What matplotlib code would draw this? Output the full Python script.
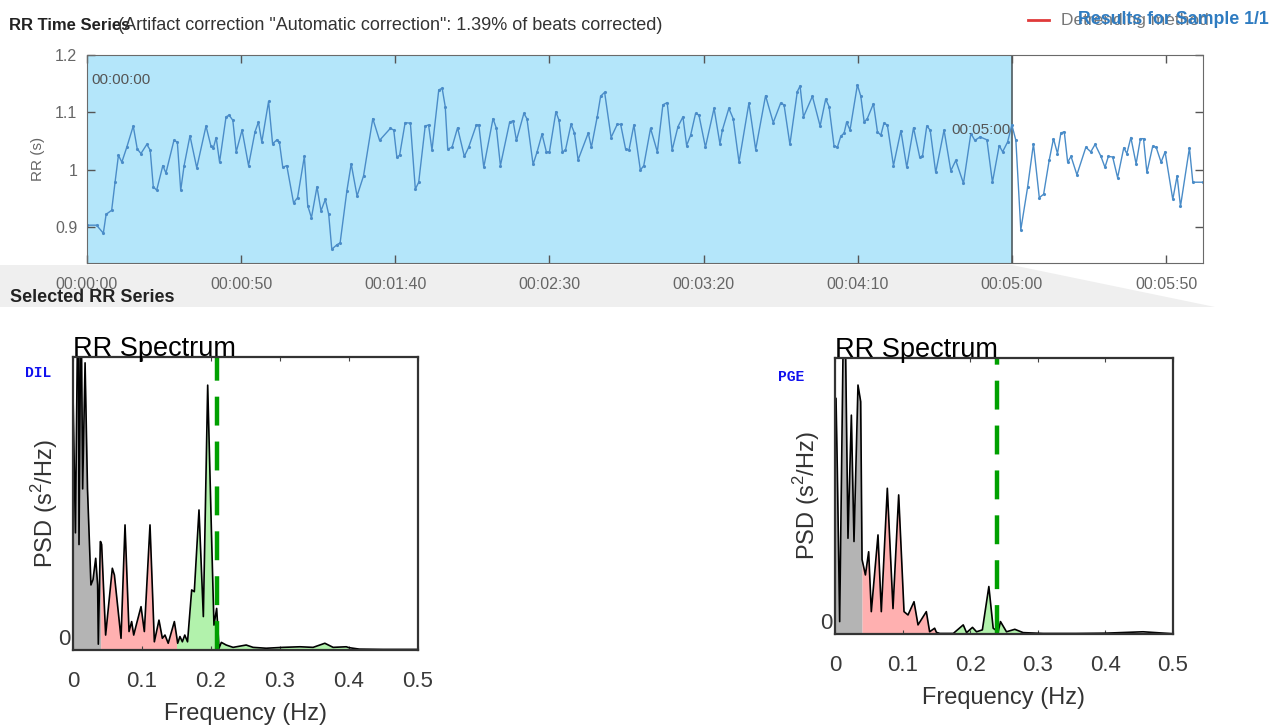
import numpy as np
import matplotlib
matplotlib.use("Agg")
import matplotlib.pyplot as plt
from matplotlib.patches import Polygon
from matplotlib.lines import Line2D
from matplotlib.ticker import FuncFormatter

plt.rcParams['font.family'] = ['Liberation Sans', 'DejaVu Sans']
plt.rcParams['mathtext.fontset'] = 'custom'
plt.rcParams['mathtext.rm'] = 'Liberation Sans'

# RR time series (time in s, RR in s)
rr_time = [0.1, 3.1, 5.3, 6.2, 8.0, 9.1, 10.2, 11.3, 12.9, 15.0, 16.3, 17.5, 19.4, 20.5, 21.5, 22.6,
           24.6, 25.6, 28.2, 29.3, 30.4, 31.5, 33.4, 35.6, 38.6, 40.2, 41.0, 41.9, 43.0, 45.1, 46.1,
           47.3, 48.4, 50.3, 52.4, 54.5, 55.6, 56.7, 58.9, 60.2, 61.6, 62.4, 63.5, 64.8, 67.0, 68.3,
           70.5, 71.6, 72.8, 74.6, 75.9, 77.3, 78.4, 79.4, 81.1, 82.1, 84.3, 85.7, 87.6, 89.7, 92.7,
           94.9, 98.4, 99.5, 100.5, 101.4, 103.2, 104.9, 106.5, 107.6, 109.7, 110.8, 111.9, 114.1,
           115.2, 116.2, 117.0, 118.4,
           120.2, 122.4, 123.8, 126.3, 127.1, 128.7, 131.7, 132.8, 134.1, 137.1, 138.2, 139.3, 141.7,
           142.7, 144.7, 146.0, 147.6, 149.0, 150.0, 152.1, 153.1, 154.2, 155.2, 157.0, 158.1, 159.3,
           162.6, 163.6, 165.5, 166.6, 167.9, 170.0, 172.0, 173.1, 174.7, 175.8, 177.4, 179.5, 180.6,
           182.8, 185.0, 186.8, 188.2, 189.8, 191.7, 193.3, 194.5, 195.8, 197.4, 198.5, 200.6, 203.4,
           205.3, 206.1, 208.2, 209.6, 211.5, 214.7, 216.9, 220.1, 222.6, 225.0, 226.1, 228.0, 230.4,
           231.3, 232.4, 235.3, 237.8,
           239.6, 240.7, 242.3, 243.4, 244.5, 245.6, 246.4, 247.5, 249.9, 251.0, 252.1, 253.1, 255.1,
           256.4, 257.5, 258.5, 259.6, 261.6, 264.0, 265.9, 268.1, 270.1, 271.0, 272.4, 273.5, 275.3,
           278.0, 280.2, 281.8, 284.3, 286.7, 288.0, 289.7, 291.9, 293.7, 295.9, 297.0, 298.6, 300.0,
           301.3, 302.9, 305.1, 307.0, 308.9, 310.3, 312.1, 313.5, 314.8, 315.9, 317.0, 318.1, 319.2,
           321.1, 324.0, 325.6, 327.0, 328.9, 330.2, 331.3, 332.7, 334.3, 336.3, 337.3, 338.6, 340.3,
           341.7, 342.7, 343.8, 345.7, 346.8, 348.4, 349.7, 352.2, 353.6, 354.7, 357.6, 358.7, 361.9]
rr_value = [0.903, 0.903, 0.889, 0.922, 0.929, 0.978, 1.025, 1.013, 1.039, 1.076, 1.036, 1.028, 1.044,
            1.034, 0.970, 0.964, 1.007, 0.994, 1.051, 1.048, 0.964, 1.007, 1.059, 1.003, 1.076, 1.041,
            1.038, 1.056, 1.013, 1.092, 1.095, 1.086, 1.031, 1.069, 1.007, 1.066, 1.083, 1.048, 1.119,
            1.045, 1.052, 1.048, 1.004, 1.007, 0.942, 0.951, 1.023, 0.937, 0.916, 0.970, 0.928, 0.948,
            0.922, 0.861, 0.869, 0.872, 0.963, 1.010, 0.954, 0.989, 1.089, 1.051, 1.072, 1.069, 1.022,
            1.025, 1.082, 1.081, 0.966, 0.978, 1.076, 1.078, 1.034, 1.139, 1.142, 1.110, 1.036, 1.039,
            1.073, 1.023, 1.039, 1.078, 1.078, 1.004, 1.089, 1.072, 1.007, 1.083, 1.085, 1.051, 1.098,
            1.089, 1.009, 1.031, 1.062, 1.031, 1.031, 1.101, 1.086, 1.031, 1.034, 1.079, 1.064, 1.017,
            1.064, 1.039, 1.092, 1.128, 1.135, 1.056, 1.079, 1.079, 1.036, 1.034, 1.078, 0.999, 1.007,
            1.072, 1.031, 1.113, 1.117, 1.034, 1.075, 1.092, 1.042, 1.060, 1.098, 1.095, 1.039, 1.107,
            1.045, 1.069, 1.107, 1.089, 1.013, 1.116, 1.035, 1.129, 1.082, 1.116, 1.113, 1.044, 1.136,
            1.146, 1.092, 1.128, 1.076,
            1.123, 1.110, 1.042, 1.039, 1.058, 1.064, 1.083, 1.069, 1.148, 1.128, 1.083, 1.089, 1.115,
            1.066, 1.060, 1.081, 1.078, 1.007, 1.068, 1.004, 1.073, 1.022, 1.023, 1.076, 1.069, 0.995,
            1.069, 0.998, 1.016, 0.976, 1.063, 1.051, 1.057, 1.052, 0.978, 1.042, 1.031, 1.048, 1.078,
            1.051, 0.895, 0.969, 1.045, 0.951, 0.957, 1.016, 1.054, 1.028, 1.064, 1.066, 1.013, 1.023,
            0.991, 1.039, 1.031, 1.044, 1.023, 1.004, 1.023, 1.022, 0.986, 1.038, 1.028, 1.056, 1.010,
            1.054, 1.054, 0.995, 1.041, 1.039, 1.013, 1.031, 0.948, 0.989, 0.936, 1.038, 0.978, 0.978]
selected_end = 300  # s, end of the selected window
time_ticks = [0, 50, 100, 150, 200, 250, 300, 350]

# RR spectra (frequency in Hz, PSD in relative units, top of axes = 1)
dil_freq = [0.000, 0.0035, 0.0077, 0.0087, 0.0116, 0.014, 0.0175, 0.021, 0.026, 0.029, 0.0329, 0.0357,
            0.0367, 0.0396, 0.040, 0.0415, 0.0473, 0.057, 0.060, 0.0696, 0.0754, 0.0812, 0.085, 0.088,
            0.0923, 0.0986, 0.1034, 0.1116, 0.1179, 0.1246, 0.1295, 0.1333, 0.138, 0.1469, 0.150,
            0.1517, 0.155, 0.1585, 0.162, 0.166, 0.172, 0.1758, 0.1826, 0.1889, 0.1952, 0.201, 0.2043,
            0.2082, 0.2116, 0.215, 0.222, 0.232, 0.251, 0.261, 0.280, 0.304, 0.329, 0.348, 0.365,
            0.377, 0.396, 0.400, 0.415, 0.449, 0.500]
dil_psd = [0.876, 0.40, 1.35, 0.36, 1.25, 0.55, 0.98, 0.55, 0.222, 0.24, 0.313, 0.222,
           0.02, 0.370, 0.37, 0.36, 0.051, 0.279, 0.256, 0.040, 0.427, 0.063, 0.097, 0.051,
           0.091, 0.148, 0.063, 0.427, 0.028, 0.102, 0.040, 0.051, 0.023, 0.097, 0.05,
           0.023, 0.046, 0.028, 0.051, 0.028, 0.205, 0.199, 0.478, 0.114, 0.904, 0.370, 0.085,
           0.142, 0.006, 0.026, 0.017, 0.009, 0.017, 0.009, 0.006, 0.009, 0.011, 0.009, 0.023,
           0.009, 0.011, 0.008, 0.003, 0.002, 0.002]
dil_dash = 0.208

pge_freq = [0.000, 0.0015, 0.0034, 0.0069, 0.0133, 0.0153, 0.0192, 0.0242, 0.0281, 0.034, 0.038, 0.040,
            0.045, 0.0498, 0.0537, 0.0636, 0.0685, 0.0774, 0.0858, 0.0942, 0.1021, 0.108, 0.1169,
            0.1228, 0.1351, 0.140, 0.1474, 0.150, 0.155, 0.175, 0.1897, 0.1946, 0.2034, 0.2094,
            0.218, 0.2276, 0.234, 0.2414, 0.2448, 0.2537, 0.266, 0.2783, 0.308, 0.357, 0.400,
            0.4557, 0.500]
pge_psd = [0.854, 0.854, 0.600, 0.045, 1.30, 1.10, 0.347, 0.793, 0.335, 0.902, 0.842, 0.27,
           0.214, 0.298, 0.081, 0.359, 0.081, 0.528, 0.092, 0.504, 0.081, 0.069, 0.117,
           0.033, 0.081, 0.008, 0.021, 0.006, 0.002, 0.002, 0.033, 0.005, 0.024, 0.008,
           0.015, 0.172, 0.021, 0.008, 0.045, 0.008, 0.017, 0.005, 0.002, 0.002, 0.003,
           0.008, 0.001]
pge_dash = 0.240

bands = [(0.0, 0.04, '#b4b4b4'), (0.04, 0.15, '#ffb0b0'), (0.15, 0.40, '#b2f2ac')]

W, H = 1272, 726
fig = plt.figure(figsize=(W / 100, H / 100), dpi=100)


def rect(x0, y0, x1, y1):
    # pixel box -> figure fraction
    return [x0 / W, 1 - y1 / H, (x1 - x0) / W, (y1 - y0) / H]


# ---- top: RR time series ----
ax = fig.add_axes(rect(87, 55, 1203, 263))
ax.axvspan(0, selected_end, color='#b4e6fa', lw=0, zorder=0)
ax.axvline(selected_end, color='#4f5b60', lw=1.2, zorder=1)
ax.plot(rr_time, rr_value, color='#4a8cc8', lw=1.0, marker='.', ms=2.5, zorder=2)
ax.set_xlim(0, 362)
ax.set_ylim(0.837, 1.2)
ax.set_xticks(time_ticks)
ax.xaxis.set_major_formatter(FuncFormatter(
    lambda s, p: '%02d:%02d:%02d' % (s // 3600, (s % 3600) // 60, s % 60)))
ax.set_yticks([0.9, 1.0, 1.1, 1.2])
ax.set_yticklabels(['0.9', '1', '1.1', '1.2'])
ax.tick_params(direction='in', top=True, right=True, length=6, width=1, color='#555555',
               labelcolor='#666666', labelsize=11.5)
ax.tick_params(axis='x', pad=10)
ax.tick_params(axis='y', pad=7)
for sp in ax.spines.values():
    sp.set_color('#6a6a6a')
ax.set_ylabel('RR (s)', color='#666666', fontsize=11)
ax.yaxis.set_label_coords(-0.038, 0.5)
ax.text(1.5, 1.157, '00:00:00', color='#555555', fontsize=11, va='center', ha='left')
ax.text(selected_end - 0.5, 1.069, '00:05:00', color='#555555', fontsize=11, va='center', ha='right')

# grey strip under the time axis with the zoom wedge
pos = ax.get_position()
x_sel = pos.x0 + selected_end / 362 * pos.width
strip = Polygon([(0, 1 - 265 / H), (x_sel, 1 - 265 / H), (1215 / W, 1 - 307 / H), (0, 1 - 307 / H)],
                closed=True, transform=fig.transFigure, facecolor='#efefef', edgecolor='none', zorder=-1)
fig.patches.append(strip)
fig.text(10 / W, 1 - 298 / H, 'Selected RR Series', fontsize=13, fontweight='bold', color='#222222',
         va='center')

# header texts (they overlap in the source screenshot too)
fig.text(9 / W, 1 - 25 / H, 'RR Time Series', fontsize=12, fontweight='bold', color='#222222',
         va='center')
fig.text(118 / W, 1 - 25 / H, '(Artifact correction "Automatic correction": 1.39% of beats corrected)',
         fontsize=13, color='#333333', va='center')
fig.add_artist(Line2D([1028 / W, 1049 / W], [1 - 20 / H, 1 - 20 / H], color='#e03a3a', lw=2,
                      transform=fig.transFigure))
fig.text(1061 / W, 1 - 20 / H, 'Detrending method', fontsize=12.5, color='#777777', va='center')
fig.text(1078 / W, 1 - 19 / H, 'Results for Sample 1/1', fontsize=12.8, fontweight='bold',
         color='#2f7cc1', va='center')


# ---- bottom: RR spectra ----
def spectrum(box, freq, psd, dash, tag, tag_xy):
    f = np.asarray(freq)
    p = np.asarray(psd)
    a = fig.add_axes(rect(*box))
    for lo, hi, c in bands:
        m = (f >= lo) & (f <= hi)
        a.fill_between(f[m], 0, p[m], color=c, lw=0)
    a.plot(f, p, color='black', lw=1.2)
    a.axvline(dash, color='#00a000', lw=3.2, ls=(0, (6.5, 3.6)))
    a.set_xlim(0, 0.5)
    a.set_ylim(0, 1)
    a.set_xticks([0, 0.1, 0.2, 0.3, 0.4, 0.5])
    a.set_xticklabels(['0', '0.1', '0.2', '0.3', '0.4', '0.5'])
    a.set_yticks([0])
    a.set_yticklabels(['0'])
    a.tick_params(axis='x', direction='in', top=True, length=3, color='#444444',
                  labelsize=16, labelcolor='#3a3a3a', pad=15)
    a.tick_params(axis='y', length=0, labelsize=16, labelcolor='#3a3a3a', pad=2)
    for lab in a.get_yticklabels():
        lab.set_va('bottom')
    for sp in a.spines.values():
        sp.set_color('#333333')
        sp.set_linewidth(1.6)
    a.set_title('RR Spectrum', loc='left', fontsize=19.5, pad=1)
    a.set_xlabel('Frequency (Hz)', fontsize=17, color='#333333', labelpad=8)
    a.set_ylabel('PSD (s$^{2}$/Hz)', fontsize=17, color='#333333')
    a.yaxis.set_label_coords(-0.038, 0.5)
    fig.text(tag_xy[0] / W, 1 - tag_xy[1] / H, tag, family=['Liberation Mono', 'DejaVu Sans Mono'],
             fontweight='bold', fontsize=10.5, color='#1010ee', va='center')
    return a


spectrum((73, 357, 418, 650), dil_freq, dil_psd, dil_dash, 'DIL', (25, 373))
spectrum((835, 358, 1173, 634), pge_freq, pge_psd, pge_dash, 'PGE', (778, 377))

fig.savefig('out.png', dpi=100)
